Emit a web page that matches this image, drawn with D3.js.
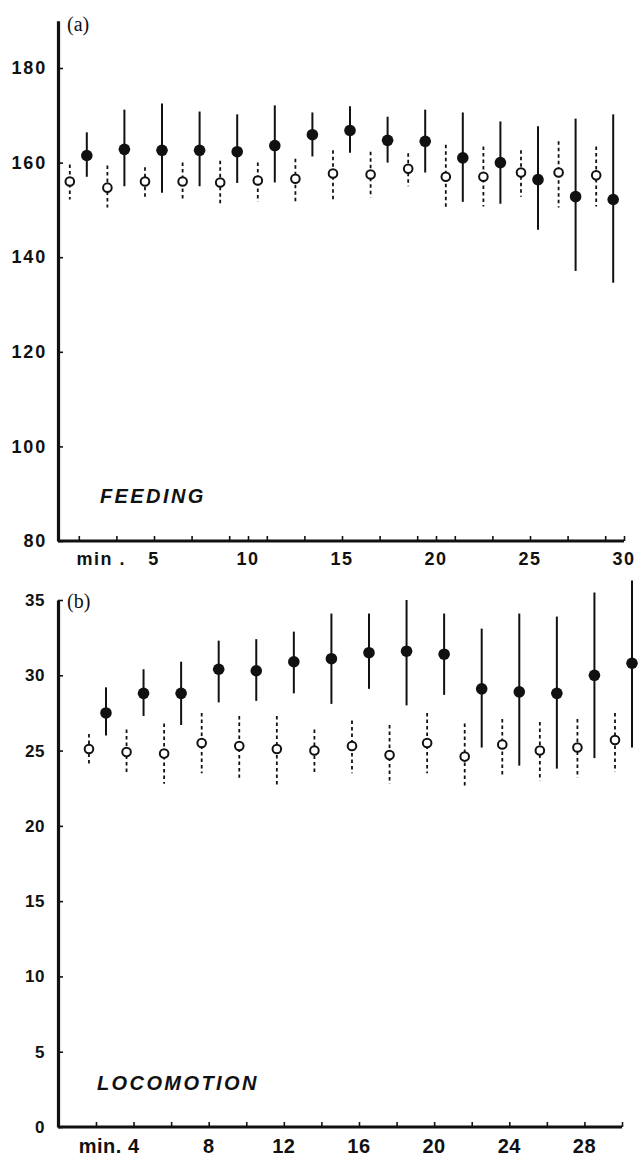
<!DOCTYPE html>
<html>
<head>
<meta charset="utf-8">
<script src="https://cdn.jsdelivr.net/npm/d3@7"></script>
<style>
  body { margin: 0; background: #fff; }
  .num { font-family: "Liberation Sans", Arial, sans-serif; font-weight: bold; fill: #111; }
  .narrow { font-family: "Liberation Sans Narrow", "Liberation Sans", Arial, sans-serif; font-weight: bold; fill: #111; }
  .tag { font-family: "Liberation Serif", "Times New Roman", serif; font-size: 20px; fill: #111; }
  .title { font-family: "Liberation Sans", Arial, sans-serif; font-weight: bold; font-style: italic; font-size: 20px; letter-spacing: 2.4px; fill: #111; }
</style>
</head>
<body>
<script>
// panel (a) feeding : bins centred on odd minutes
var minutesA = [1, 3, 5, 7, 9, 11, 13, 15, 17, 19, 21, 23, 25, 27, 29];
var feedOpen     = [156, 154.7, 156, 156, 155.8, 156.2, 156.6, 157.7, 157.5, 158.7, 157, 157, 157.9, 157.9, 157.3];
var feedOpenHi   = [159.6, 159.4, 159, 160, 160.4, 160, 160.8, 162.6, 162.3, 162, 163.8, 163.4, 162.6, 164.5, 163.4];
var feedOpenLo   = [152.2, 150.5, 152.8, 152.2, 151, 151.7, 151.3, 152, 152.6, 155, 150.5, 150.7, 152.8, 150.5, 150.7];
var feedFilled   = [161.5, 162.8, 162.6, 162.6, 162.3, 163.6, 165.9, 166.8, 164.7, 164.5, 161, 160, 156.4, 152.8, 152.2];
var feedFilledHi = [166.4, 171.2, 172.5, 170.8, 170.2, 172.1, 170.6, 171.9, 169.7, 171.2, 170.6, 168.7, 167.7, 169.3, 170.2];
var feedFilledLo = [157, 155, 153.6, 155, 155.7, 155.8, 161.3, 162.1, 160, 157.9, 151.7, 151.3, 145.8, 137.1, 134.6];
var ticksAy = [80, 100, 120, 140, 160, 180];
var ticksAx = [1, 3, 5, 7, 9, 10, 11, 13, 15, 17, 19, 20, 21, 23, 25, 27, 29, 30];
var labelsAx = [5, 10, 15, 20, 25, 30];

// panel (b) locomotion : bins centred on even minutes
var minutesB = [2, 4, 6, 8, 10, 12, 14, 16, 18, 20, 22, 24, 26, 28, 30];
var locoOpen     = [25.1, 24.9, 24.8, 25.5, 25.3, 25.1, 25.0, 25.3, 24.7, 25.5, 24.6, 25.4, 25.0, 25.2, 25.7];
var locoOpenHi   = [26.1, 26.4, 26.8, 27.5, 27.3, 27.3, 26.4, 27.0, 26.7, 27.5, 26.8, 27.1, 26.9, 27.1, 27.5];
var locoOpenLo   = [24.1, 23.5, 22.8, 23.5, 23.2, 22.7, 23.5, 23.5, 22.8, 23.5, 22.5, 23.4, 23.0, 23.2, 23.6];
var locoFilled   = [27.5, 28.8, 28.8, 30.4, 30.3, 30.9, 31.1, 31.5, 31.6, 31.4, 29.1, 28.9, 28.8, 30.0, 30.8];
var locoFilledHi = [29.2, 30.4, 30.9, 32.3, 32.4, 32.9, 34.1, 34.1, 35.0, 34.1, 33.1, 34.1, 33.9, 35.5, 36.3];
var locoFilledLo = [26.0, 27.3, 26.7, 28.2, 28.3, 28.8, 28.1, 29.1, 28.0, 28.7, 25.2, 24.0, 23.8, 24.5, 25.2];
var ticksBy = [0, 5, 10, 15, 20, 25, 30, 35];
var ticksBx = [2, 4, 6, 8, 10, 12, 14, 16, 18, 20, 22, 24, 26, 28, 30];
var labelsBx = [8, 12, 16, 20, 24, 28];

var svg = d3.select("body").append("svg").attr("width", 638).attr("height", 1157);

// draws one panel : axes, bars, circles
function panel(p) {
  var g = svg.append("g");

  var yAxis = d3.axisLeft(p.y).tickValues(p.yTicks).tickSize(-5).tickSizeOuter(0).tickPadding(p.yPad).tickFormat(d3.format("d"));
  var xAxis = d3.axisBottom(p.x).tickValues(p.xTicks).tickSize(-5).tickSizeOuter(0).tickFormat("");

  var yg = g.append("g").attr("transform", "translate(" + p.axisX + ",0)").call(yAxis);
  yg.select(".domain").attr("stroke", "#111").attr("stroke-width", 3.2);
  yg.selectAll(".tick line").attr("stroke", "#111").attr("stroke-width", 1.6);
  yg.selectAll(".tick text").attr("class", "num").style("font-size", p.yFont + "px").style("letter-spacing", p.ySpace + "px").attr("font-family", null);

  var xg = g.append("g").attr("transform", "translate(0," + p.y(p.yMin) + ")").call(xAxis);
  xg.select(".domain").attr("d", "M" + p.axisX + ",0H" + p.x(30)).attr("stroke", "#111").attr("stroke-width", 3.2);
  xg.selectAll(".tick line").attr("stroke", "#111").attr("stroke-width", 1.6);

  // x labels
  g.selectAll(".xl").data(p.xLabels).enter().append("text")
    .attr("class", p.xClass)
    .attr("x", function(d) { return p.x(d); })
    .attr("y", p.y(p.yMin) + p.xLabDy)
    .attr("text-anchor", "middle")
    .style("font-size", p.xFont + "px")
    .style("letter-spacing", p.xSpace + "px")
    .text(function(d) { return d; });

  g.append("text").attr("class", p.xClass)
    .attr("x", p.minX).attr("y", p.y(p.yMin) + p.xLabDy)
    .attr("text-anchor", "end")
    .style("font-size", p.xFont + "px")
    .style("letter-spacing", p.xSpace + "px")
    .text(p.minText);

  // open circles with dashed bars
  g.selectAll(".ob").data(p.minutes).enter().append("line")
    .attr("x1", function(d) { return p.x(d) + p.openDx; })
    .attr("x2", function(d) { return p.x(d) + p.openDx; })
    .attr("y1", function(d, i) { return p.y(p.openHi[i]); })
    .attr("y2", function(d, i) { return p.y(p.openLo[i]); })
    .attr("stroke", "#111").attr("stroke-width", 1.8).attr("stroke-dasharray", "3.5,3");

  g.selectAll(".oc").data(p.minutes).enter().append("circle")
    .attr("cx", function(d) { return p.x(d) + p.openDx; })
    .attr("cy", function(d, i) { return p.y(p.open[i]); })
    .attr("r", 4.3)
    .attr("fill", "#fff").attr("stroke", "#111").attr("stroke-width", 2);

  // filled circles with solid bars
  g.selectAll(".fb").data(p.minutes).enter().append("line")
    .attr("x1", function(d) { return p.x(d) + p.fillDx; })
    .attr("x2", function(d) { return p.x(d) + p.fillDx; })
    .attr("y1", function(d, i) { return p.y(p.fillHi[i]); })
    .attr("y2", function(d, i) { return p.y(p.fillLo[i]); })
    .attr("stroke", "#111").attr("stroke-width", 2);

  g.selectAll(".fc").data(p.minutes).enter().append("circle")
    .attr("cx", function(d) { return p.x(d) + p.fillDx; })
    .attr("cy", function(d, i) { return p.y(p.filled[i]); })
    .attr("r", 5.8)
    .attr("fill", "#111");

  g.append("text").attr("class", "tag").attr("x", p.axisX + 9).attr("y", p.tagY).text(p.tag);
  g.append("text").attr("class", "title").attr("x", p.titleX).attr("y", p.titleY).text(p.title);
}

var xA = d3.scaleLinear().domain([0, 30]).range([60, 624]);
var yA = d3.scaleLinear().domain([80, 190]).range([541, 20.7]);

panel({
  x: xA, y: yA, yMin: 80, axisX: 58,
  yTicks: ticksAy, yPad: 11, yFont: 18, ySpace: 1.8,
  xTicks: ticksAx, xLabels: labelsAx, xClass: "num", xFont: 18, xSpace: 1.5, xLabDy: 24,
  minX: xA(5) - 28, minText: "min .",
  minutes: minutesA, openDx: -9, fillDx: 8,
  open: feedOpen, openHi: feedOpenHi, openLo: feedOpenLo,
  filled: feedFilled, fillHi: feedFilledHi, fillLo: feedFilledLo,
  tag: "(a)", tagY: 31, title: "FEEDING", titleX: 100, titleY: 503
});

var xB = d3.scaleLinear().domain([0, 30]).range([58.4, 622]);
var yB = d3.scaleLinear().domain([0, 35]).range([1127, 600]);

panel({
  x: xB, y: yB, yMin: 0, axisX: 58,
  yTicks: ticksBy, yPad: 13, yFont: 17, ySpace: 0.5,
  xTicks: ticksBx, xLabels: labelsBx, xClass: "narrow", xFont: 20, xSpace: 0.5, xLabDy: 26,
  minX: xB(4) + 6, minText: "min. 4",
  minutes: minutesB, openDx: -7, fillDx: 10,
  open: locoOpen, openHi: locoOpenHi, openLo: locoOpenLo,
  filled: locoFilled, fillHi: locoFilledHi, fillLo: locoFilledLo,
  tag: "(b)", tagY: 608, title: "LOCOMOTION", titleX: 97, titleY: 1090
});
</script>
</body>
</html>
